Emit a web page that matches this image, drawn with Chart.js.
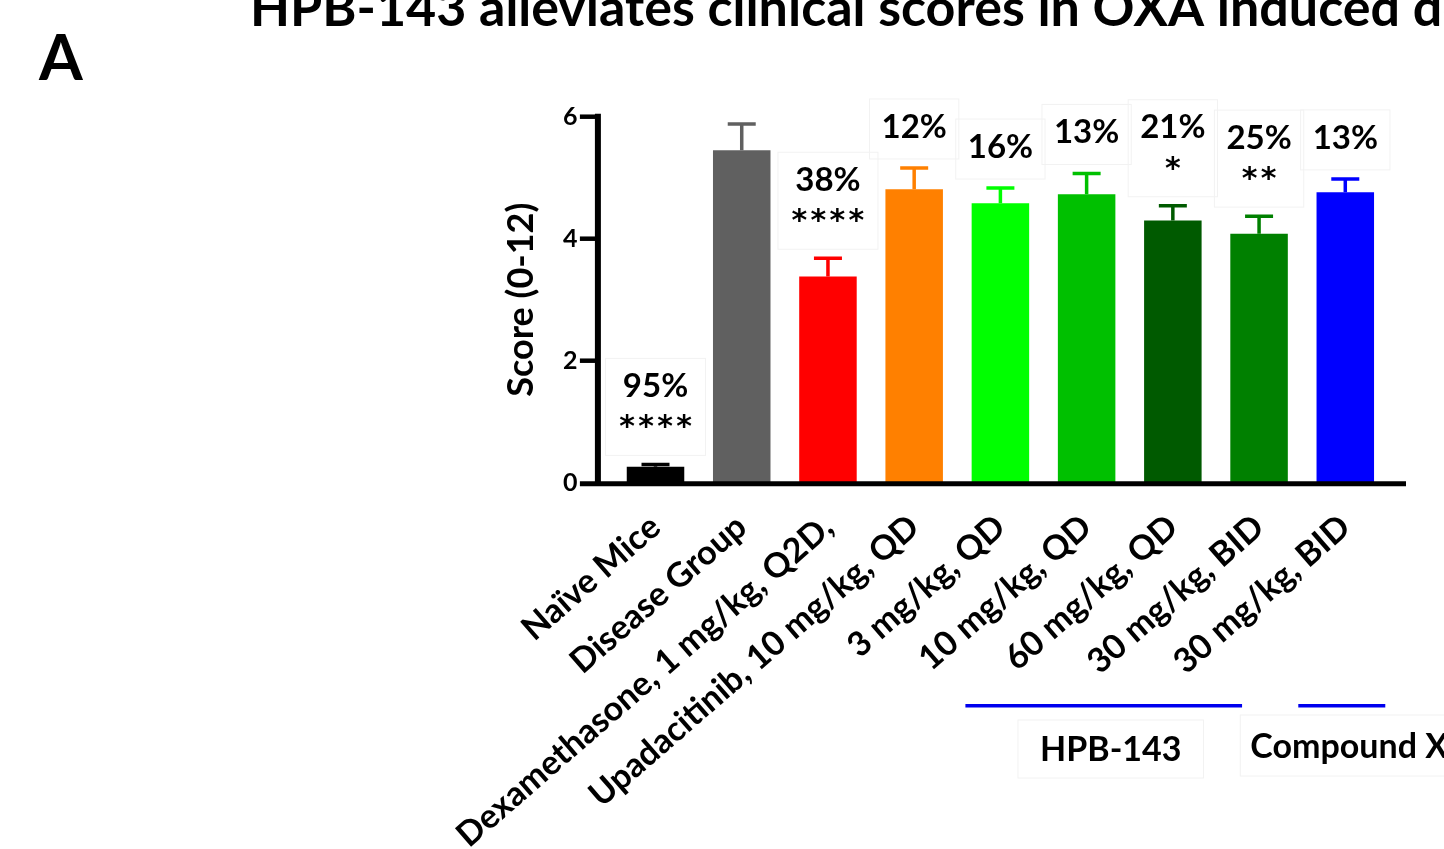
<!DOCTYPE html>
<html>
<head>
<meta charset="utf-8">
<script src="https://cdn.jsdelivr.net/npm/chart.js@4.4.1/dist/chart.umd.min.js"></script>
<style>
  html, body { margin: 0; padding: 0; background: #fff; overflow: hidden; }
  #wrap { position: relative; width: 1444px; height: 849px; }
</style>
</head>
<body>
<div id="wrap"><canvas id="c" width="1444" height="849"></canvas></div>
<script>
// Treatment groups and clinical score (mean ± SEM)
const groups = [
  'Naïve Mice',
  'Disease Group',
  'Dexamethasone, 1 mg/kg, Q2D,',
  'Upadacitinib, 10 mg/kg, QD',
  '3 mg/kg, QD',
  '10 mg/kg, QD',
  '60 mg/kg, QD',
  '30 mg/kg, BID',
  '30 mg/kg, BID'
];
const meanScores = [0.26, 5.45, 3.38, 4.81, 4.58, 4.73, 4.30, 4.08, 4.76];
const semScores  = [0.04, 0.43, 0.30, 0.35, 0.25, 0.34, 0.24, 0.29, 0.22];
const barColors  = ['#000000', '#606060', '#ff0000', '#ff8000', '#00ff00', '#00c000', '#005a00', '#008000', '#0000ff'];

// Inhibition vs. disease group and significance marks
const inhibitionLabels   = ['95%', '', '38%', '12%', '16%', '13%', '21%', '25%', '13%'];
const significanceLabels = ['****', '', '****', '', '', '', '*', '**', ''];

const yTicks = [0, 2, 4, 6];

// Compound brackets under the axis labels
const compoundNames = ['HPB-143', 'Compound X'];
const compoundFirst = [4, 8];
const compoundLast  = [7, 8];

const FONT = 'Lato, "Open Sans", sans-serif';
const STAR_FONT = '"DejaVu Sans", sans-serif';
const bracketInset = [[-35, -17], [-47, 40]];

const overlay = {
  id: 'overlay',
  afterDatasetsDraw(chart) {
    const ctx = chart.ctx;
    const y = chart.scales.y;
    const meta = chart.getDatasetMeta(0);
    ctx.save();
    ctx.lineCap = 'butt';
    meta.data.forEach((bar, i) => {
      const top = y.getPixelForValue(meanScores[i] + semScores[i]);
      const base = y.getPixelForValue(meanScores[i]);
      ctx.strokeStyle = barColors[i];
      ctx.lineWidth = 3.5;
      ctx.beginPath();
      ctx.moveTo(bar.x, base);
      ctx.lineTo(bar.x, top);
      ctx.moveTo(bar.x - 14, top);
      ctx.lineTo(bar.x + 14, top);
      ctx.stroke();
    });
    ctx.restore();
  },
  afterDraw(chart) {
    const ctx = chart.ctx;
    const ys = chart.scales.y;
    const xs = chart.scales.x;
    const area = chart.chartArea;
    const axisX = area.left - 14.5;
    const axisRight = area.right + 17.6;
    const y0 = ys.getPixelForValue(0);
    ctx.save();

    // axes
    ctx.strokeStyle = '#000';
    ctx.lineWidth = 6;
    ctx.beginPath();
    ctx.moveTo(axisX, ys.getPixelForValue(6) - 3);
    ctx.lineTo(axisX, y0 + 3);
    ctx.stroke();
    ctx.lineWidth = 5;
    ctx.beginPath();
    ctx.moveTo(axisX - 18, y0 + 1);
    ctx.lineTo(axisRight, y0 + 1);
    ctx.stroke();
    ctx.lineWidth = 4.5;
    yTicks.forEach(v => {
      if (v === 0) return;
      const py = ys.getPixelForValue(v);
      ctx.beginPath();
      ctx.moveTo(axisX - 18, py);
      ctx.lineTo(axisX, py);
      ctx.stroke();
    });

    // inhibition / significance annotations
    const meta = chart.getDatasetMeta(0);
    ctx.textAlign = 'center';
    meta.data.forEach((bar, i) => {
      const pct = inhibitionLabels[i];
      const sig = significanceLabels[i];
      if (!pct && !sig) return;
      const top = ys.getPixelForValue(meanScores[i] + semScores[i]);
      let lineY = top - 41;
      const rows = [];
      if (sig) { rows.push({ t: sig, y: lineY, star: true }); lineY -= 37; }
      if (pct) { rows.push({ t: pct, y: lineY, star: false }); }
      // faint text-box outline
      ctx.font = 'bold 33px ' + FONT;
      let w = 0;
      rows.forEach(r => { w = Math.max(w, r.star ? r.t.length * 19 : ctx.measureText(r.t).width); });
      const boxTop = rows[rows.length - 1].y - 28;
      const boxBot = rows[0].y + 32;
      ctx.strokeStyle = '#f2f2f2';
      ctx.lineWidth = 1;
      ctx.strokeRect(bar.x - w / 2 - 12, boxTop, w + 24, boxBot - boxTop);
      ctx.fillStyle = '#000';
      rows.forEach(r => {
        if (r.star) {
          ctx.font = 'bold 30px ' + STAR_FONT;
          ctx.textBaseline = 'alphabetic';
          const n = r.t.length;
          for (let k = 0; k < n; k++) {
            ctx.fillText('*', bar.x + (k - (n - 1) / 2) * 19, r.y + 13);
          }
        } else {
          ctx.font = 'bold 33px ' + FONT;
          ctx.textBaseline = 'middle';
          ctx.fillText(r.t, bar.x, r.y);
        }
      });
    });

    // compound brackets
    compoundNames.forEach((name, g) => {
      const x1 = xs.getPixelForValue(compoundFirst[g]) + bracketInset[g][0];
      const x2 = xs.getPixelForValue(compoundLast[g]) + bracketInset[g][1];
      ctx.strokeStyle = '#0000ee';
      ctx.lineWidth = 3.5;
      ctx.beginPath();
      ctx.moveTo(x1, 705.7);
      ctx.lineTo(x2, 705.7);
      ctx.stroke();
      ctx.font = 'bold 34px ' + FONT;
      ctx.fillStyle = '#000';
      ctx.textBaseline = 'middle';
      const tw = ctx.measureText(name).width;
      ctx.strokeStyle = '#f2f2f2';
      ctx.lineWidth = 1;
      if (g === 0) {
        const tx = (x1 + x2) / 2 + 7;
        ctx.textAlign = 'center';
        ctx.strokeRect(tx - tw / 2 - 22, 720, tw + 44, 58);
        ctx.fillText(name, tx, 750);
      } else {
        const tx = x1 - 48;
        ctx.textAlign = 'left';
        ctx.strokeRect(tx - 10, 715, tw + 30, 61);
        ctx.fillText(name, tx, 747);
      }
    });

    // heading and panel letter
    ctx.textAlign = 'left';
    ctx.textBaseline = 'alphabetic';
    ctx.fillStyle = '#000';
    ctx.font = 'bold 52px ' + FONT;
    ctx.fillText('HPB-143 alleviates clinical scores in OXA induced dermatitis', 250, 26);
    ctx.font = 'bold 63px ' + FONT;
    ctx.fillText('A', 39, 80);
    ctx.restore();
  }
};

const chart = new Chart(document.getElementById('c').getContext('2d'), {
  type: 'bar',
  data: {
    labels: groups,
    datasets: [{
      data: meanScores,
      backgroundColor: barColors,
      borderWidth: 0,
      barPercentage: 0.667,
      categoryPercentage: 1
    }]
  },
  options: {
    responsive: false,
    animation: false,
    devicePixelRatio: 1,
    layout: { padding: { left: 500, right: 55.6, top: 116.7, bottom: 0 } },
    plugins: { legend: { display: false }, tooltip: { enabled: false }, title: { display: false } },
    scales: {
      x: {
        grid: { display: false, drawTicks: false, tickLength: 0 },
        border: { display: false },
        ticks: {
          autoSkip: false, minRotation: 41, maxRotation: 41, padding: 24,
          color: '#000', font: { family: FONT, weight: 'bold', size: 34 }
        },
        afterFit(s) { s.height = 849 - 482.7; }
      },
      y: {
        min: 0, max: 6,
        grid: { display: false, drawTicks: false, tickLength: 0 },
        border: { display: false },
        afterBuildTicks(s) { s.ticks = yTicks.map(v => ({ value: v })); },
        ticks: { padding: 35, color: '#000', font: { family: FONT, weight: 'bold', size: 25 } },
        title: {
          display: true, text: 'Score (0-12)', color: '#000',
          font: { family: FONT, weight: 'bold', size: 36 }, padding: { top: 0, bottom: 0 }
        },
        afterFit(s) { s.width = 612.4 - 500; }
      }
    }
  },
  plugins: [overlay]
});
</script>
</body>
</html>
